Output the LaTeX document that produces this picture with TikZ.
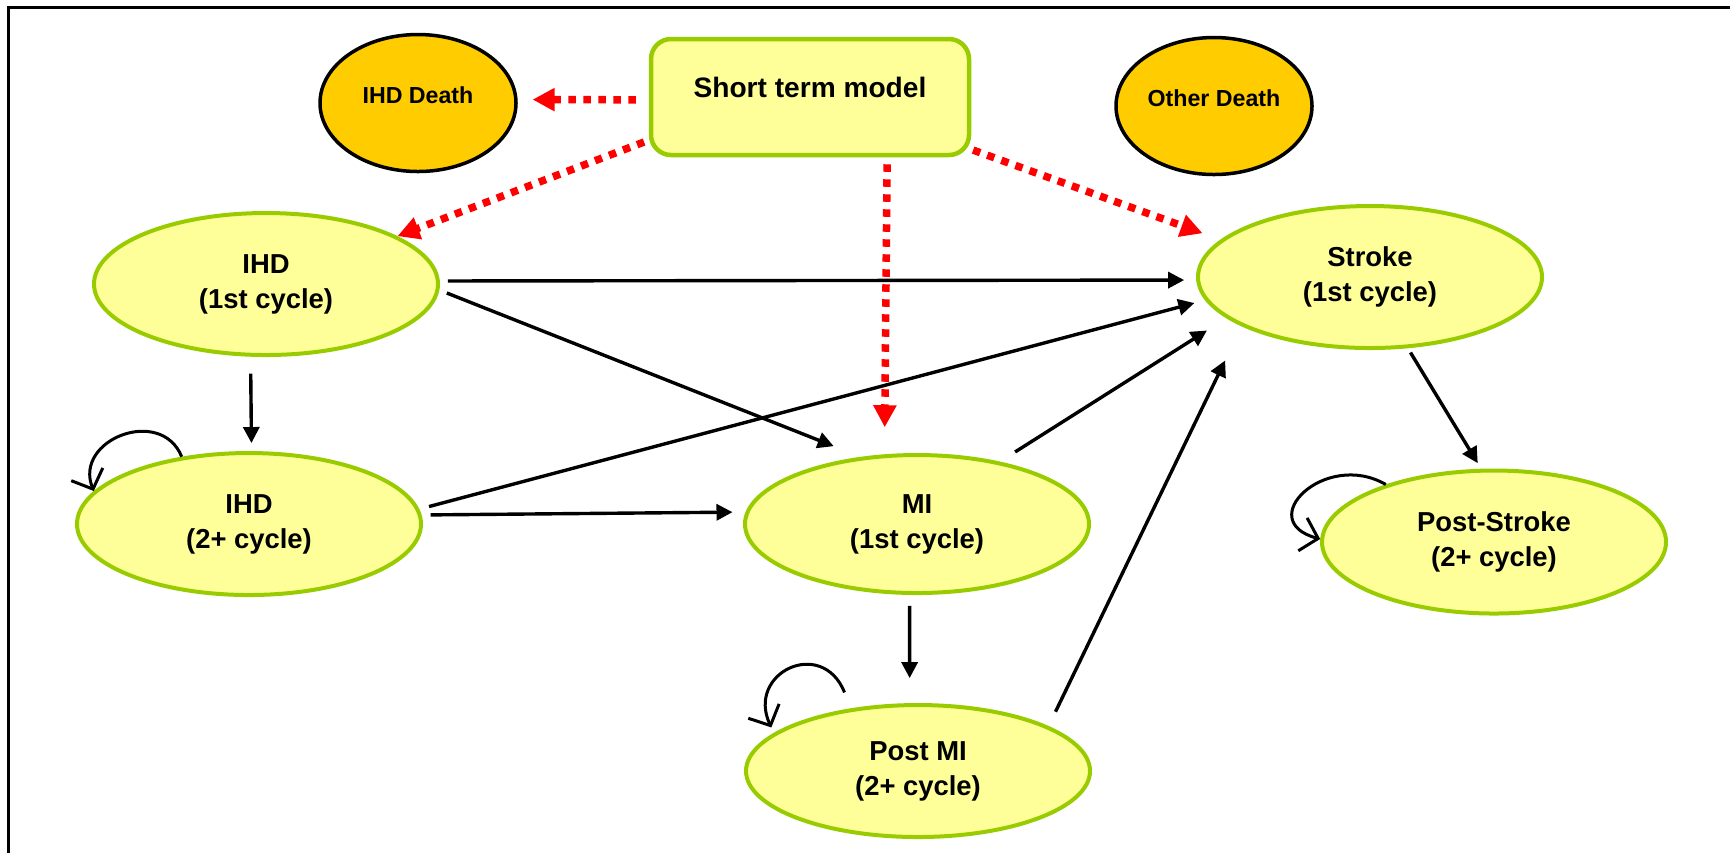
\documentclass[tikz,border=0pt]{standalone}
\usepackage{fontspec}
\setmainfont{Liberation Sans}
\usetikzlibrary{arrows.meta, shapes.geometric}

\definecolor{paleyellow}{HTML}{FFFF99}
\definecolor{leafgreen}{HTML}{99CC00}
\definecolor{deathgold}{HTML}{FFCC00}

\begin{document}
\begin{tikzpicture} [state/.style = {ellipse, draw = leafgreen, fill = paleyellow, line width = 0.04cm, minimum width = 3.44cm, minimum height = 1.42cm, inner sep = 0pt, align = center, font = \fontsize{7.8}{10}\selectfont\bfseries},
death/.style = {ellipse, draw = black, fill = deathgold, line width = 0.035cm, minimum width = 1.96cm, minimum height = 1.37cm, inner sep = 0pt, text height = 2mm, text depth = 2mm, font = \fontsize{6.6}{8}\selectfont\bfseries},
modelbox/.style = {draw = leafgreen, fill = paleyellow, rounded corners = 0.2cm, line width = 0.045cm, minimum width = 3.18cm, minimum height = 1.16cm, inner sep = 0pt, text height = 2.5mm, text depth = 2.5mm, font = \fontsize{8}{10}\selectfont\bfseries},
trans/.style = {line width = 0.034cm, -{Triangle[length = 0.16cm, width = 0.16cm]}},
shortterm/.style = {red, line width = 0.075cm, dash pattern = on 0.075cm off 0.075cm, -{Triangle[length = 0.22cm, width = 0.22cm]}},
selfloop/.style = {line width = 0.03cm, -{Straight Barb[length = 0.16cm, width = 0.34cm]}}]
\useasboundingbox (0,0) rectangle (17.30,-8.53);
\draw [line width = 0.03cm] (0.08,-8.53) -- (0.08,-0.073) -- (17.30,-0.073);
\node[modelbox] (stm) at (8.10,-0.97) {Short term model};
\node[death] (dIHD) at (4.18,-1.03) {IHD Death};
\node[death] (dOther) at (12.14,-1.06) {Other Death};
\node[state] (ihd) at (2.66,-2.84) {IHD\\(1st cycle)};
\node[state] (ihd2) at (2.49,-5.24) {IHD\\(2+ cycle)};
\node[state] (str) at (13.70,-2.77) {Stroke\\(1st cycle)};
\node[state, minimum height = 1.38cm] (mi) at (9.17,-5.24) {MI\\(1st cycle)};
\node[state, minimum height = 1.32cm] (pmi) at (9.18,-7.71) {Post MI\\(2+ cycle)};
\node[state, minimum height = 1.43cm] (pstr) at (14.94,-5.42) {Post-Stroke\\(2+ cycle)};
\draw [shortterm, shorten <= 0.13cm, shorten >= 0.15cm] (stm.181) -- (dIHD.2);
\draw [shortterm, shorten <= 0.05cm] (stm.195) -- (ihd.20);
\draw [shortterm, shorten <= 0.07cm, shorten >= 0.27cm] (stm.-38) -- (mi.115);
\draw [shortterm, shorten <= 0.02cm, shorten >= 0.19cm] (stm.-18) -- (str.166);
\draw [trans, shorten <= 0.08cm, shorten >= 0.12cm] (ihd.1) -- (str.181);
\draw [trans, shorten <= 0.08cm, shorten >= 0.29cm] (ihd.-2) -- (mi.130);
\draw [trans, shorten <= 0.17cm, shorten >= 0.08cm] (ihd.-102) -- (ihd2.88);
\draw [trans, shorten <= 0.10cm, shorten >= 0.11cm] (ihd2.5) -- (str.188);
\draw [trans, shorten <= 0.09cm, shorten >= 0.13cm] (ihd2.3) -- (mi.176);
\draw [trans, shorten <= 0.18cm, shorten >= 0.23cm] (mi.37) -- (str.196);
\draw [trans, shorten <= 0.11cm, shorten >= 0.25cm] (mi.-96) -- (pmi.97);
\draw [trans, shorten <= 0.16cm, shorten >= 0.38cm] (pmi.19) -- (str.201);
\draw [trans, shorten <= 0.05cm, shorten >= 0.065cm] (str.-62) -- (pstr.100);
\draw [selfloop] (ihd2.135) to [out = 112, in = 112, looseness = 1.5] (ihd2.168);
\draw [selfloop] ([yshift = 0.17cm]pmi.140) to [out = 112, in = 115, looseness = 1.9] ([yshift = 0.07cm]pmi.166);
\draw [selfloop] (pstr.152) to [out = 150, in = 165, looseness = 2.1] (pstr.179);
\end{tikzpicture}
\end{document}
